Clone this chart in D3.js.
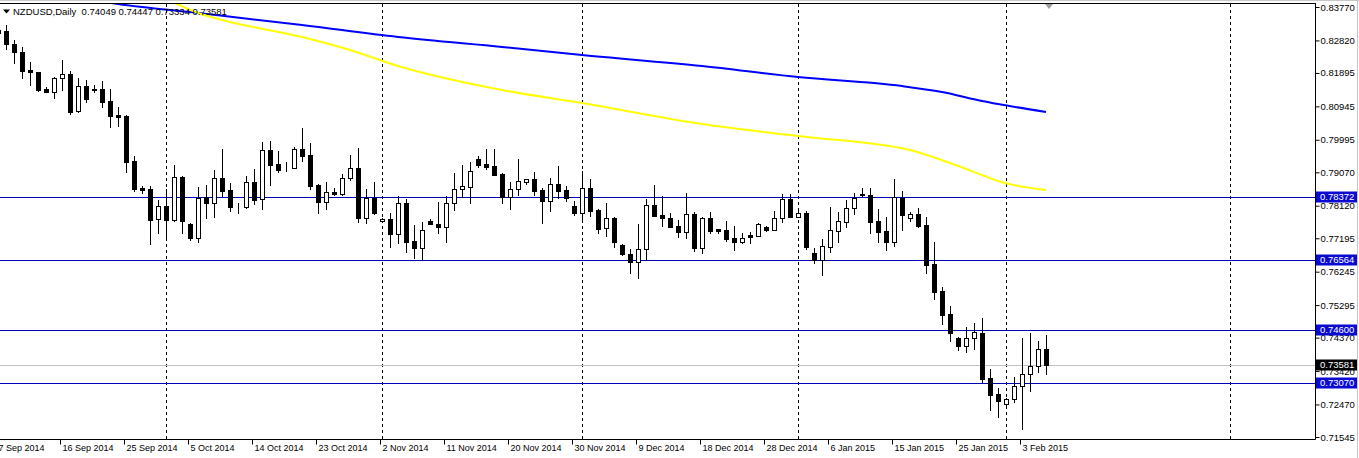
<!DOCTYPE html>
<html><head><meta charset="utf-8">
<script src="https://cdn.jsdelivr.net/npm/d3@7"></script>
<style>
body{margin:0;background:#fff;}
svg{display:block;}
text{font-family:"Liberation Sans",Arial,sans-serif;}
</style>
</head><body>
<svg id="c" width="1359" height="458"></svg>
<script>
// ---------------- DATA ----------------
const symbol = "NZDUSD", timeframe = "Daily";
const titleOHLC = ["0.74049", "0.74447", "0.73334", "0.73581"];
const firstBar = -1; // bar index of the first value below
const open = [0.83116,0.83088,0.82718,0.82491,0.81979,0.81922,0.81439,0.81362,0.81743,0.81865,0.80805,0.81516,0.81425,0.81430,0.81098,0.80691,0.80671,0.79392,0.78624,0.78596,0.77734,0.78112,0.77714,0.78945,0.77601,0.77211,0.78360,0.78206,0.78909,0.78567,0.78121,0.78093,0.78786,0.78303,0.79705,0.79307,0.79193,0.79184,0.79733,0.79562,0.78709,0.78235,0.78502,0.78454,0.78900,0.79184,0.77780,0.78348,0.77677,0.77743,0.77308,0.78189,0.77117,0.76910,0.77695,0.77592,0.77524,0.78189,0.78587,0.78661,0.79440,0.79307,0.79250,0.79022,0.78360,0.78587,0.78786,0.78872,0.78567,0.78263,0.78738,0.78567,0.78112,0.77905,0.78616,0.77999,0.77478,0.77771,0.77004,0.76748,0.76512,0.76881,0.78132,0.77848,0.77763,0.77544,0.77382,0.77894,0.76927,0.77763,0.77450,0.77422,0.77194,0.77098,0.77288,0.77268,0.77507,0.77430,0.77763,0.78303,0.77808,0.77913,0.76776,0.76586,0.76955,0.77410,0.77666,0.78047,0.78454,0.78425,0.77677,0.77402,0.77098,0.78348,0.77780,0.77885,0.77572,0.76464,0.75696,0.75042,0.74360,0.74141,0.74351,0.74502,0.73222,0.72768,0.72475,0.72617,0.72987,0.73328,0.73555,0.74049];
const high = [0.83201,0.83258,0.82832,0.82624,0.82206,0.81936,0.81487,0.81788,0.82263,0.81951,0.81743,0.81695,0.81544,0.81666,0.81439,0.80919,0.80691,0.79534,0.78681,0.78681,0.78283,0.78587,0.79278,0.78974,0.77638,0.78661,0.78709,0.79136,0.79733,0.78758,0.78206,0.78974,0.79164,0.79932,0.79960,0.79676,0.79355,0.79790,0.80330,0.79904,0.78738,0.78786,0.78616,0.79022,0.79562,0.79770,0.78587,0.78786,0.77771,0.77922,0.78397,0.78311,0.77572,0.77649,0.77743,0.78235,0.78397,0.79059,0.79278,0.79355,0.79534,0.79733,0.79733,0.79059,0.78786,0.79440,0.78880,0.79071,0.78616,0.78900,0.79258,0.78681,0.78255,0.79108,0.78872,0.78036,0.78198,0.77808,0.77032,0.76899,0.77592,0.78303,0.78709,0.78397,0.77913,0.77723,0.78474,0.77950,0.77786,0.77942,0.77459,0.77686,0.77544,0.77336,0.77365,0.77638,0.77544,0.77970,0.78454,0.78454,0.78019,0.77970,0.76910,0.77166,0.78093,0.77933,0.78283,0.78474,0.78616,0.78616,0.78019,0.77791,0.78880,0.78539,0.77942,0.78047,0.77800,0.77089,0.75801,0.75269,0.74397,0.74681,0.74786,0.74937,0.73478,0.72938,0.72654,0.73259,0.74360,0.74493,0.74274,0.74447];
const low = [0.82889,0.82567,0.82186,0.81760,0.81561,0.81382,0.81353,0.81191,0.81419,0.80737,0.80793,0.81078,0.81353,0.80936,0.80367,0.80387,0.79088,0.78547,0.78491,0.77041,0.77353,0.77146,0.77700,0.77353,0.77137,0.77098,0.77780,0.77808,0.78405,0.77979,0.77922,0.78064,0.78161,0.78036,0.78709,0.79088,0.79108,0.79179,0.79400,0.78587,0.77922,0.78036,0.78425,0.78434,0.78852,0.77666,0.77638,0.77885,0.77658,0.76955,0.77069,0.76813,0.76643,0.76586,0.77587,0.77353,0.77098,0.77999,0.78377,0.78206,0.79230,0.79156,0.78985,0.78206,0.78036,0.78425,0.78729,0.78425,0.77638,0.77970,0.78331,0.78263,0.77857,0.77734,0.77828,0.77336,0.77260,0.76955,0.76719,0.76216,0.76057,0.76577,0.77828,0.77552,0.77515,0.77240,0.77194,0.76833,0.76785,0.77336,0.77353,0.77126,0.76862,0.77069,0.77069,0.77260,0.77410,0.77416,0.77666,0.77800,0.77800,0.76881,0.76500,0.76151,0.76813,0.77089,0.77524,0.77877,0.78397,0.77336,0.77098,0.76862,0.76975,0.77430,0.77695,0.77524,0.76216,0.75477,0.74766,0.74283,0.74019,0.73970,0.74047,0.73117,0.72321,0.72122,0.72390,0.72532,0.71764,0.72861,0.73402,0.73334];
const close = [0.83031,0.82710,0.82482,0.81959,0.81914,0.81410,0.81362,0.81743,0.81865,0.80793,0.81516,0.81163,0.81410,0.81078,0.80680,0.80651,0.79372,0.78596,0.78567,0.77714,0.78112,0.77714,0.78937,0.77686,0.77211,0.78340,0.78206,0.78909,0.78547,0.78093,0.78112,0.78786,0.78283,0.79705,0.79278,0.79136,0.79184,0.79733,0.79543,0.78690,0.78235,0.78502,0.78445,0.78900,0.79184,0.77780,0.78348,0.77905,0.77743,0.77308,0.78189,0.77098,0.76910,0.77430,0.77592,0.77524,0.78189,0.78587,0.78673,0.79108,0.79287,0.79230,0.79002,0.78360,0.78587,0.78815,0.78872,0.78547,0.78263,0.78729,0.78547,0.78331,0.77905,0.78616,0.77979,0.77467,0.77763,0.77098,0.76739,0.76512,0.76890,0.78132,0.77837,0.77763,0.77524,0.77382,0.77877,0.76927,0.77763,0.77410,0.77393,0.77183,0.77098,0.77194,0.77240,0.77601,0.77430,0.77763,0.78303,0.77808,0.77913,0.76955,0.76577,0.76967,0.77422,0.77677,0.78047,0.78331,0.78417,0.77666,0.77382,0.77098,0.78360,0.77865,0.77877,0.77552,0.76444,0.75676,0.75022,0.74510,0.74141,0.74351,0.74522,0.73194,0.72748,0.72577,0.72617,0.72995,0.73328,0.73555,0.74047,0.73581];

// moving averages (readings at selected bars)
const maBlueBars   = [10, 14, 24, 37, 49, 62, 72, 87, 99, 112, 117, 122, 124, 130];
const maBlueValues = [0.83997,0.83855,0.83599,0.83258,0.82917,0.82633,0.82405,0.82093,0.81780,0.81524,0.81353,0.81098,0.81012,0.80785];
const maYellowBars   = [17, 21, 24, 27, 37, 43, 49, 62, 72, 87, 99, 113, 118, 122, 124, 130];
const maYellowValues = [0.84111,0.83884,0.83599,0.83400,0.82917,0.82548,0.82093,0.81410,0.81041,0.80444,0.80102,0.79705,0.79335,0.78994,0.78823,0.78567];

const priceTicks = [0.83770,0.82820,0.81895,0.80945,0.79995,0.79070,0.78120,0.77195,0.76245,0.75295,0.74370,0.73420,0.72470,0.71545];
const levelLines = [0.78372, 0.76564, 0.74600, 0.73070];
const bidPrice = 0.73581;
const dateLabels = ["7 Sep 2014","16 Sep 2014","25 Sep 2014","5 Oct 2014","14 Oct 2014","23 Oct 2014","2 Nov 2014","11 Nov 2014","20 Nov 2014","30 Nov 2014","9 Dec 2014","18 Dec 2014","28 Dec 2014","6 Jan 2015","15 Jan 2015","25 Jan 2015","3 Feb 2015"];
const dateLabelFirstBar = -1, dateLabelStep = 8;
const monthStartBars = [20, 47, 72, 99, 125, 153];

// ---------------- LAYOUT ----------------
const W = 1359, H = 458;
const plotL = 0, plotR = 1315, plotT = 3, plotB = 439;
const svg = d3.select("#c");
svg.append("rect").attr("width", W).attr("height", H).attr("fill", "#fff");

const x = d3.scaleLinear().domain([-0.75, 163.5]).range([0, 1314]);
const y = d3.scaleLinear().domain([0.71545, 0.83770]).range([437, 7]);

const bars = open.map((o, i) => ({k: firstBar + i, o, h: high[i], l: low[i], c: close[i]}));

svg.append("clipPath").attr("id", "plotclip").append("rect")
  .attr("x", plotL).attr("y", plotT + 1).attr("width", plotR - plotL).attr("height", plotB - plotT - 1);
const plot = svg.append("g").attr("clip-path", "url(#plotclip)");

// month separators
plot.selectAll("line.sep").data(monthStartBars).join("line")
  .attr("class", "sep")
  .attr("x1", d => Math.round(x(d)) + 0.5).attr("x2", d => Math.round(x(d)) + 0.5)
  .attr("y1", plotT + 1).attr("y2", plotB)
  .attr("stroke", "#000").attr("stroke-width", 1).attr("stroke-dasharray", "3,3");

// bid line
plot.append("line")
  .attr("x1", plotL).attr("x2", plotR)
  .attr("y1", Math.round(y(bidPrice)) + 0.5).attr("y2", Math.round(y(bidPrice)) + 0.5)
  .attr("stroke", "#c0c0c0").attr("stroke-width", 1);

// horizontal levels
plot.selectAll("line.lvl").data(levelLines).join("line")
  .attr("class", "lvl")
  .attr("x1", plotL).attr("x2", plotR)
  .attr("y1", d => Math.round(y(d)) + 0.5).attr("y2", d => Math.round(y(d)) + 0.5)
  .attr("stroke", "#0000b4").attr("stroke-width", 1);

// moving averages
const line = d3.line().x(d => x(d[0])).y(d => y(d[1])).curve(d3.curveMonotoneX);
plot.append("path").datum(maBlueBars.map((b, i) => [b, maBlueValues[i]]))
  .attr("d", line).attr("fill", "none").attr("stroke", "#0000ff").attr("stroke-width", 2);
plot.append("path").datum(maYellowBars.map((b, i) => [b, maYellowValues[i]]))
  .attr("d", line).attr("fill", "none").attr("stroke", "#ffff00").attr("stroke-width", 2);

// candles
const cg = plot.append("g").attr("shape-rendering", "crispEdges");
const cand = cg.selectAll("g").data(bars).join("g");
cand.append("line")
  .attr("x1", d => Math.round(x(d.k)) + 0.5).attr("x2", d => Math.round(x(d.k)) + 0.5)
  .attr("y1", d => Math.round(y(d.h))).attr("y2", d => Math.round(y(d.l)) + 1)
  .attr("stroke", "#000").attr("stroke-width", 1);
cand.append("rect")
  .attr("x", d => Math.round(x(d.k)) - 2 + 0.5)
  .attr("width", 4)
  .attr("y", d => Math.round(y(Math.max(d.o, d.c))) + 0.5)
  .attr("height", d => Math.max(0, Math.round(y(Math.min(d.o, d.c))) - Math.round(y(Math.max(d.o, d.c)))))
  .attr("fill", d => d.c >= d.o ? "#fff" : "#000")
  .attr("stroke", "#000").attr("stroke-width", 1);

// shift marker
const sx = Math.round(x(130.4));
svg.append("path").attr("d", `M${sx - 4},${plotT + 1}L${sx + 4},${plotT + 1}L${sx},${plotT + 6}Z`).attr("fill", "#a0a0a0");

// frame
svg.append("line").attr("x1", 0).attr("x2", W).attr("y1", 0.5).attr("y2", 0.5).attr("stroke", "#c8c8c8");
svg.append("line").attr("x1", 0).attr("x2", plotR).attr("y1", plotT + 0.5).attr("y2", plotT + 0.5).attr("stroke", "#000");
svg.append("line").attr("x1", 1357.5).attr("x2", 1357.5).attr("y1", 0).attr("y2", H).attr("stroke", "#c8c8c8");

// price axis
const yAxis = d3.axisRight(y).tickValues(priceTicks).tickFormat(d3.format(".5f")).tickSize(4).tickPadding(1);
const ya = svg.append("g").attr("transform", `translate(${plotR + 0.5},0)`).call(yAxis);
ya.select(".domain").attr("d", `M0,${plotT}V${plotB + 0.5}`).attr("stroke", "#000");
ya.selectAll(".tick line").attr("stroke", "#000");
ya.selectAll("text").attr("font-size", "9.5px").attr("fill", "#000").attr("font-family", "Liberation Sans, Arial, sans-serif");

// price label boxes
function priceBox(v, bg) {
  const g = svg.append("g").attr("transform", `translate(${plotR + 1},${Math.round(y(v))})`);
  g.append("rect").attr("x", 0).attr("y", -5.5).attr("width", 41).attr("height", 11).attr("fill", bg);
  g.append("text").attr("x", 4).attr("y", 0).attr("dy", "0.35em").attr("font-size", "9.5px").attr("fill", "#fff").text(d3.format(".5f")(v));
}
levelLines.forEach(v => priceBox(v, "#0a0ad2"));
priceBox(bidPrice, "#000");

// time axis
const dateBars = dateLabels.map((_, i) => dateLabelFirstBar + i * dateLabelStep);
const xa = svg.append("g").attr("transform", `translate(0,${plotB + 0.5})`);
xa.append("line").attr("x1", 0).attr("x2", plotR + 0.5).attr("y1", 0).attr("y2", 0).attr("stroke", "#000");
const xt = xa.selectAll("g.t").data(dateBars).join("g").attr("class", "t")
  .attr("transform", d => `translate(${Math.round(x(d)) - 2 + 0.5},0)`);
xt.append("line").attr("y1", 0).attr("y2", 5).attr("stroke", "#000");
xt.append("text").attr("x", 2).attr("y", 11).attr("font-size", "9px").attr("fill", "#000")
  .text((d, i) => dateLabels[i]);

// title
svg.append("path").attr("d", "M3,9.5L10,9.5L6.5,13.5Z").attr("fill", "#000");
svg.append("text").attr("x", 13).attr("y", 15).attr("font-size", "9.5px").attr("fill", "#000")
  .attr("xml:space", "preserve")
  .text(`${symbol},${timeframe}  ${titleOHLC.join(" ")}`);
</script>
</body></html>
